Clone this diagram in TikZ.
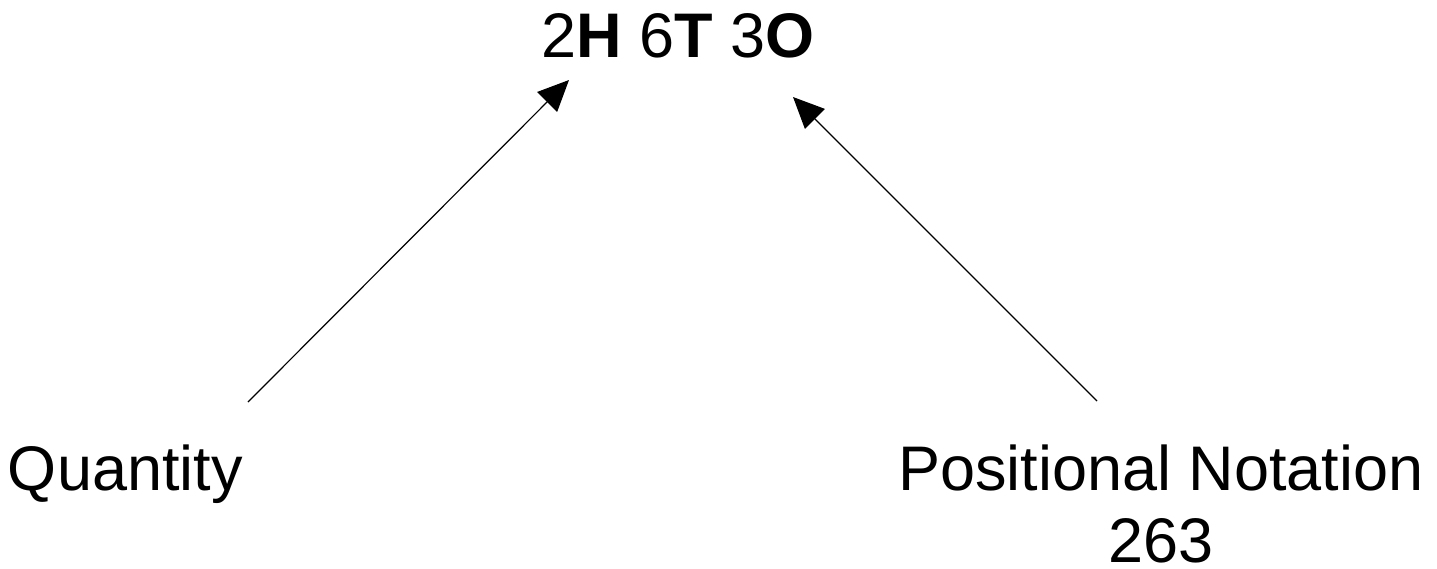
\documentclass[tikz,border=0pt]{standalone}
\usepackage{fontspec}
\setmainfont{Liberation Sans}
\usetikzlibrary{arrows.meta}
\begin{document}
\begin{tikzpicture}[x=1pt,y=-1pt,
  lbl/.style={inner sep=0pt,outer sep=0pt,font=\fontsize{63}{72}\selectfont},
  conn/.style={line width=1.2pt,-{Triangle[length=31pt,width=28pt]}}]
\useasboundingbox (0,0) rectangle (1437,568);
\node[lbl,anchor=base] (top) at (678,57) {2\textbf{H} 6\textbf{T} 3\textbf{O}};
\node[lbl,anchor=base west] (qty) at (8,490) {Quantity};
\node[lbl,anchor=base,align=center,text depth=0pt] (pos) at (1161,562) {Positional Notation\\263};
\coordinate (qs) at (248,402);
\coordinate (qt) at (569,80);
\coordinate (ps) at (1097,401);
\coordinate (pt) at (793,97);
\draw[conn] (qs) -- (qt);
\draw[conn] (ps) -- (pt);
\end{tikzpicture}
\end{document}
